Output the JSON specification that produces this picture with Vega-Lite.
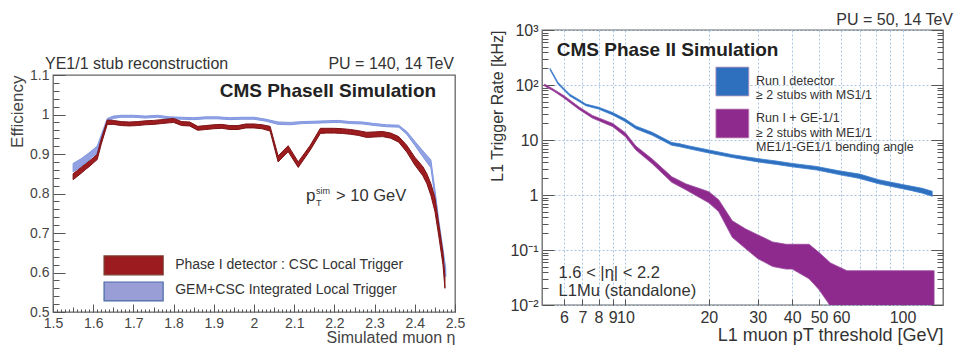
{
  "$schema": "https://vega.github.io/schema/vega-lite/v6.json",
  "background": "white",
  "padding": {"left": 7, "top": 11, "right": 0, "bottom": 0},
  "spacing": 23,
  "config": {
    "font": "Liberation Sans",
    "view": {"stroke": "#666", "strokeWidth": 1.3},
    "axis": {"domain": false, "labelFont": "Liberation Sans", "titleFont": "Liberation Sans", "labelColor": "#444", "titleColor": "#444", "tickColor": "#555", "titleFontWeight": "normal", "labelFlush": false, "labelOverlap": false}
  },
  "datasets": {
    "eff": [
      {"series": "GEM+CSC", "eta": 1.55, "lo": 0.855, "hi": 0.876},
      {"series": "GEM+CSC", "eta": 1.57, "lo": 0.868, "hi": 0.888},
      {"series": "GEM+CSC", "eta": 1.59, "lo": 0.885, "hi": 0.903},
      {"series": "GEM+CSC", "eta": 1.61, "lo": 0.903, "hi": 0.92},
      {"series": "GEM+CSC", "eta": 1.635, "lo": 0.98, "hi": 0.99},
      {"series": "GEM+CSC", "eta": 1.65, "lo": 0.99, "hi": 0.996},
      {"series": "GEM+CSC", "eta": 1.67, "lo": 0.993, "hi": 0.998},
      {"series": "GEM+CSC", "eta": 1.7, "lo": 0.993, "hi": 0.998},
      {"series": "GEM+CSC", "eta": 1.73, "lo": 0.991, "hi": 0.996},
      {"series": "GEM+CSC", "eta": 1.76, "lo": 0.993, "hi": 0.998},
      {"series": "GEM+CSC", "eta": 1.79, "lo": 0.989, "hi": 0.994},
      {"series": "GEM+CSC", "eta": 1.82, "lo": 0.988, "hi": 0.993},
      {"series": "GEM+CSC", "eta": 1.85, "lo": 0.987, "hi": 0.992},
      {"series": "GEM+CSC", "eta": 1.88, "lo": 0.989, "hi": 0.994},
      {"series": "GEM+CSC", "eta": 1.91, "lo": 0.989, "hi": 0.994},
      {"series": "GEM+CSC", "eta": 1.94, "lo": 0.987, "hi": 0.992},
      {"series": "GEM+CSC", "eta": 1.97, "lo": 0.988, "hi": 0.993},
      {"series": "GEM+CSC", "eta": 2.0, "lo": 0.988, "hi": 0.993},
      {"series": "GEM+CSC", "eta": 2.03, "lo": 0.983, "hi": 0.988},
      {"series": "GEM+CSC", "eta": 2.06, "lo": 0.975, "hi": 0.981},
      {"series": "GEM+CSC", "eta": 2.09, "lo": 0.974, "hi": 0.98},
      {"series": "GEM+CSC", "eta": 2.12, "lo": 0.977, "hi": 0.982},
      {"series": "GEM+CSC", "eta": 2.15, "lo": 0.978, "hi": 0.983},
      {"series": "GEM+CSC", "eta": 2.18, "lo": 0.979, "hi": 0.984},
      {"series": "GEM+CSC", "eta": 2.21, "lo": 0.98, "hi": 0.985},
      {"series": "GEM+CSC", "eta": 2.24, "lo": 0.977, "hi": 0.982},
      {"series": "GEM+CSC", "eta": 2.27, "lo": 0.976, "hi": 0.981},
      {"series": "GEM+CSC", "eta": 2.3, "lo": 0.972, "hi": 0.977},
      {"series": "GEM+CSC", "eta": 2.33, "lo": 0.969, "hi": 0.974},
      {"series": "GEM+CSC", "eta": 2.36, "lo": 0.968, "hi": 0.973},
      {"series": "GEM+CSC", "eta": 2.38, "lo": 0.95, "hi": 0.957},
      {"series": "GEM+CSC", "eta": 2.4, "lo": 0.922, "hi": 0.932},
      {"series": "GEM+CSC", "eta": 2.42, "lo": 0.893, "hi": 0.908},
      {"series": "GEM+CSC", "eta": 2.44, "lo": 0.865, "hi": 0.885},
      {"series": "GEM+CSC", "eta": 2.45, "lo": 0.79, "hi": 0.81},
      {"series": "GEM+CSC", "eta": 2.46, "lo": 0.71, "hi": 0.73},
      {"series": "GEM+CSC", "eta": 2.47, "lo": 0.64, "hi": 0.66},
      {"series": "GEM+CSC", "eta": 2.477, "lo": 0.59, "hi": 0.61},
      {"series": "Phase I", "eta": 1.55, "lo": 0.835, "hi": 0.85},
      {"series": "Phase I", "eta": 1.56, "lo": 0.843, "hi": 0.858},
      {"series": "Phase I", "eta": 1.57, "lo": 0.851, "hi": 0.866},
      {"series": "Phase I", "eta": 1.58, "lo": 0.86, "hi": 0.874},
      {"series": "Phase I", "eta": 1.59, "lo": 0.868, "hi": 0.882},
      {"series": "Phase I", "eta": 1.6, "lo": 0.877, "hi": 0.89},
      {"series": "Phase I", "eta": 1.61, "lo": 0.886, "hi": 0.9},
      {"series": "Phase I", "eta": 1.62, "lo": 0.925, "hi": 0.938},
      {"series": "Phase I", "eta": 1.635, "lo": 0.975, "hi": 0.986},
      {"series": "Phase I", "eta": 1.65, "lo": 0.975, "hi": 0.985},
      {"series": "Phase I", "eta": 1.67, "lo": 0.972, "hi": 0.982},
      {"series": "Phase I", "eta": 1.69, "lo": 0.971, "hi": 0.981},
      {"series": "Phase I", "eta": 1.71, "lo": 0.972, "hi": 0.982},
      {"series": "Phase I", "eta": 1.73, "lo": 0.974, "hi": 0.984},
      {"series": "Phase I", "eta": 1.75, "lo": 0.975, "hi": 0.985},
      {"series": "Phase I", "eta": 1.77, "lo": 0.977, "hi": 0.987},
      {"series": "Phase I", "eta": 1.79, "lo": 0.979, "hi": 0.989},
      {"series": "Phase I", "eta": 1.8, "lo": 0.98, "hi": 0.99},
      {"series": "Phase I", "eta": 1.82, "lo": 0.972, "hi": 0.982},
      {"series": "Phase I", "eta": 1.84, "lo": 0.971, "hi": 0.981},
      {"series": "Phase I", "eta": 1.86, "lo": 0.96, "hi": 0.97},
      {"series": "Phase I", "eta": 1.88, "lo": 0.962, "hi": 0.972},
      {"series": "Phase I", "eta": 1.9, "lo": 0.964, "hi": 0.974},
      {"series": "Phase I", "eta": 1.92, "lo": 0.965, "hi": 0.975},
      {"series": "Phase I", "eta": 1.94, "lo": 0.962, "hi": 0.972},
      {"series": "Phase I", "eta": 1.96, "lo": 0.962, "hi": 0.972},
      {"series": "Phase I", "eta": 1.98, "lo": 0.966, "hi": 0.976},
      {"series": "Phase I", "eta": 2.0, "lo": 0.966, "hi": 0.976},
      {"series": "Phase I", "eta": 2.02, "lo": 0.964, "hi": 0.974},
      {"series": "Phase I", "eta": 2.04, "lo": 0.958, "hi": 0.97},
      {"series": "Phase I", "eta": 2.06, "lo": 0.88, "hi": 0.895},
      {"series": "Phase I", "eta": 2.085, "lo": 0.906, "hi": 0.921},
      {"series": "Phase I", "eta": 2.11, "lo": 0.866, "hi": 0.88},
      {"series": "Phase I", "eta": 2.14, "lo": 0.91, "hi": 0.922},
      {"series": "Phase I", "eta": 2.165, "lo": 0.952, "hi": 0.965},
      {"series": "Phase I", "eta": 2.18, "lo": 0.953, "hi": 0.965},
      {"series": "Phase I", "eta": 2.2, "lo": 0.953, "hi": 0.965},
      {"series": "Phase I", "eta": 2.22, "lo": 0.952, "hi": 0.964},
      {"series": "Phase I", "eta": 2.24, "lo": 0.95, "hi": 0.962},
      {"series": "Phase I", "eta": 2.26, "lo": 0.947, "hi": 0.959},
      {"series": "Phase I", "eta": 2.28, "lo": 0.942, "hi": 0.955},
      {"series": "Phase I", "eta": 2.3, "lo": 0.943, "hi": 0.956},
      {"series": "Phase I", "eta": 2.32, "lo": 0.944, "hi": 0.957},
      {"series": "Phase I", "eta": 2.34, "lo": 0.94, "hi": 0.953},
      {"series": "Phase I", "eta": 2.36, "lo": 0.93, "hi": 0.944},
      {"series": "Phase I", "eta": 2.38, "lo": 0.905, "hi": 0.922},
      {"series": "Phase I", "eta": 2.4, "lo": 0.872, "hi": 0.892},
      {"series": "Phase I", "eta": 2.42, "lo": 0.845, "hi": 0.868},
      {"series": "Phase I", "eta": 2.43, "lo": 0.825, "hi": 0.85},
      {"series": "Phase I", "eta": 2.44, "lo": 0.795, "hi": 0.825},
      {"series": "Phase I", "eta": 2.45, "lo": 0.755, "hi": 0.79},
      {"series": "Phase I", "eta": 2.46, "lo": 0.69, "hi": 0.72},
      {"series": "Phase I", "eta": 2.47, "lo": 0.62, "hi": 0.65},
      {"series": "Phase I", "eta": 2.475, "lo": 0.56, "hi": 0.59}
    ],
    "rate": [
      {"series": "Run I", "pt": 5.35, "lo": 188, "hi": 200},
      {"series": "Run I", "pt": 5.7, "lo": 105, "hi": 113},
      {"series": "Run I", "pt": 6.0, "lo": 80, "hi": 86},
      {"series": "Run I", "pt": 6.3, "lo": 63, "hi": 68},
      {"series": "Run I", "pt": 6.8, "lo": 50, "hi": 54},
      {"series": "Run I", "pt": 7.2, "lo": 42, "hi": 45},
      {"series": "Run I", "pt": 8.0, "lo": 36.5, "hi": 39.5},
      {"series": "Run I", "pt": 9.0, "lo": 28.5, "hi": 31.5},
      {"series": "Run I", "pt": 10, "lo": 21.5, "hi": 24},
      {"series": "Run I", "pt": 10.9, "lo": 16, "hi": 18},
      {"series": "Run I", "pt": 12.5, "lo": 12.2, "hi": 13.8},
      {"series": "Run I", "pt": 14.7, "lo": 8.0, "hi": 9.0},
      {"series": "Run I", "pt": 15.6, "lo": 7.6, "hi": 8.6},
      {"series": "Run I", "pt": 17, "lo": 6.9, "hi": 7.8},
      {"series": "Run I", "pt": 20, "lo": 5.8, "hi": 6.6},
      {"series": "Run I", "pt": 24.3, "lo": 4.8, "hi": 5.4},
      {"series": "Run I", "pt": 30, "lo": 4.0, "hi": 4.6},
      {"series": "Run I", "pt": 35, "lo": 3.6, "hi": 4.15},
      {"series": "Run I", "pt": 40, "lo": 3.25, "hi": 3.75},
      {"series": "Run I", "pt": 49, "lo": 2.85, "hi": 3.3},
      {"series": "Run I", "pt": 59, "lo": 2.35, "hi": 2.75},
      {"series": "Run I", "pt": 70, "lo": 2.0, "hi": 2.4},
      {"series": "Run I", "pt": 82, "lo": 1.6, "hi": 1.9},
      {"series": "Run I", "pt": 100, "lo": 1.3, "hi": 1.55},
      {"series": "Run I", "pt": 108, "lo": 1.2, "hi": 1.44},
      {"series": "Run I", "pt": 118, "lo": 1.08, "hi": 1.32},
      {"series": "Run I", "pt": 128, "lo": 0.95, "hi": 1.17},
      {"series": "Run I + GE-1/1", "pt": 5.1, "lo": 96, "hi": 104},
      {"series": "Run I + GE-1/1", "pt": 5.5, "lo": 78, "hi": 84},
      {"series": "Run I + GE-1/1", "pt": 6.0, "lo": 58, "hi": 64},
      {"series": "Run I + GE-1/1", "pt": 6.8, "lo": 36, "hi": 40},
      {"series": "Run I + GE-1/1", "pt": 7.6, "lo": 25, "hi": 28},
      {"series": "Run I + GE-1/1", "pt": 9.0, "lo": 17.5, "hi": 20},
      {"series": "Run I + GE-1/1", "pt": 10, "lo": 11.5, "hi": 13.5},
      {"series": "Run I + GE-1/1", "pt": 10.9, "lo": 6.6, "hi": 7.8},
      {"series": "Run I + GE-1/1", "pt": 12.5, "lo": 3.7, "hi": 4.5},
      {"series": "Run I + GE-1/1", "pt": 14.7, "lo": 1.7, "hi": 2.15},
      {"series": "Run I + GE-1/1", "pt": 16.5, "lo": 1.25, "hi": 1.6},
      {"series": "Run I + GE-1/1", "pt": 20, "lo": 0.72, "hi": 1.15},
      {"series": "Run I + GE-1/1", "pt": 21.7, "lo": 0.5, "hi": 0.82},
      {"series": "Run I + GE-1/1", "pt": 24.3, "lo": 0.17, "hi": 0.34},
      {"series": "Run I + GE-1/1", "pt": 27.2, "lo": 0.105, "hi": 0.24},
      {"series": "Run I + GE-1/1", "pt": 30, "lo": 0.07, "hi": 0.19},
      {"series": "Run I + GE-1/1", "pt": 34, "lo": 0.05, "hi": 0.14},
      {"series": "Run I + GE-1/1", "pt": 38, "lo": 0.045, "hi": 0.127},
      {"series": "Run I + GE-1/1", "pt": 40, "lo": 0.045, "hi": 0.127},
      {"series": "Run I + GE-1/1", "pt": 46, "lo": 0.03, "hi": 0.127},
      {"series": "Run I + GE-1/1", "pt": 50, "lo": 0.019, "hi": 0.09},
      {"series": "Run I + GE-1/1", "pt": 55, "lo": 0.0095, "hi": 0.058},
      {"series": "Run I + GE-1/1", "pt": 63, "lo": 0.005, "hi": 0.042},
      {"series": "Run I + GE-1/1", "pt": 130, "lo": 0.005, "hi": 0.042}
    ]
  },
  "hconcat": [
    {
      "spacing": 0,
      "vconcat": [
        {
          "width": 402,
          "height": 25,
          "data": {"values": []},
          "mark": "point",
          "view": {"stroke": null}
        },
        {
          "width": 402,
          "height": 237,
          "resolve": {"axis": {"x": "independent", "y": "independent"}},
          "layer": [
            {
              "data": {"name": "eff"},
              "transform": [{"filter": "datum.series == 'GEM+CSC'"}],
              "mark": {"type": "area", "fill": "#93a1e2", "stroke": "#7f97e2", "strokeWidth": 1, "clip": true},
              "encoding": {
                "x": {"field": "eta", "type": "quantitative", "scale": {"domain": [1.5, 2.5], "nice": false, "zero": false},
                  "axis": {"values": [1.5,1.51,1.52,1.53,1.54,1.55,1.56,1.57,1.58,1.59,1.6,1.61,1.62,1.63,1.64,1.65,1.66,1.67,1.68,1.69,1.7,1.71,1.72,1.73,1.74,1.75,1.76,1.77,1.78,1.79,1.8,1.81,1.82,1.83,1.84,1.85,1.86,1.87,1.88,1.89,1.9,1.91,1.92,1.93,1.94,1.95,1.96,1.97,1.98,1.99,2,2.01,2.02,2.03,2.04,2.05,2.06,2.07,2.08,2.09,2.1,2.11,2.12,2.13,2.14,2.15,2.16,2.17,2.18,2.19,2.2,2.21,2.22,2.23,2.24,2.25,2.26,2.27,2.28,2.29,2.3,2.31,2.32,2.33,2.34,2.35,2.36,2.37,2.38,2.39,2.4,2.41,2.42,2.43,2.44,2.45,2.46,2.47,2.48,2.49,2.5],
                    "format": ".2~f",
                    "labelExpr": "abs(datum.value*10 - round(datum.value*10)) < 0.001 ? datum.label : ''",
                    "labelOverlap": false, "labelFontSize": 14, "labelPadding": 12,
                    "tickSize": {"condition": [{"test": "abs(datum.value*10 - round(datum.value*10)) < 0.001", "value": -8}, {"test": "abs(datum.value*20 - round(datum.value*20)) < 0.001", "value": -5}], "value": -3},
                    "grid": false, "title": "Simulated muon η", "titleAnchor": "end", "titleFontSize": 16, "titlePadding": -6}},
                "y": {"field": "hi", "type": "quantitative", "scale": {"domain": [0.5, 1.1], "nice": false, "zero": false},
                  "axis": {"values": [0.5,0.52,0.54,0.56,0.58,0.6,0.62,0.64,0.66,0.68,0.7,0.72,0.74,0.76,0.78,0.8,0.82,0.84,0.86,0.88,0.9,0.92,0.94,0.96,0.98,1,1.02,1.04,1.06,1.08,1.1],
                    "format": ".1~f",
                    "labelExpr": "abs(datum.value*10 - round(datum.value*10)) < 0.001 ? datum.label : ''",
                    "labelOverlap": false, "labelFontSize": 14, "labelPadding": 16,
                    "tickSize": {"condition": {"test": "abs(datum.value*10 - round(datum.value*10)) < 0.001", "value": -12}, "value": -6},
                    "grid": false, "title": "Efficiency", "titleAnchor": "end", "titleFontSize": 17, "titlePadding": 3}},
                "y2": {"field": "lo"}
              }
            },
            {
              "data": {"name": "eff"},
              "transform": [{"filter": "datum.series == 'Phase I'"}],
              "mark": {"type": "area", "fill": "#9c1c1f", "stroke": "#7d1214", "strokeWidth": 1, "clip": true},
              "encoding": {
                "x": {"field": "eta", "type": "quantitative", "scale": {"domain": [1.5, 2.5], "nice": false, "zero": false}, "axis": null},
                "y": {"field": "hi", "type": "quantitative", "scale": {"domain": [0.5, 1.1], "nice": false, "zero": false}, "axis": null},
                "y2": {"field": "lo"}
              }
            },
            {
              "data": {"values": [{}]},
              "mark": {"type": "rect", "fill": "#9b1b1f", "stroke": "#7a3a30", "strokeWidth": 1.2},
              "encoding": {
                "x": {"datum": 1.627, "type": "quantitative", "axis": null},
                "x2": {"datum": 1.774},
                "y": {"datum": 0.642, "type": "quantitative", "axis": null},
                "y2": {"datum": 0.594}
              }
            },
            {
              "data": {"values": [{}]},
              "mark": {"type": "rect", "fill": "#9a9ed6", "stroke": "#4a6aa5", "strokeWidth": 1.2},
              "encoding": {
                "x": {"datum": 1.627, "type": "quantitative", "axis": null},
                "x2": {"datum": 1.774},
                "y": {"datum": 0.576, "type": "quantitative", "axis": null},
                "y2": {"datum": 0.528}
              }
            },
            {
              "data": {"values": [{}]},
              "mark": {"type": "text", "text": "Phase I detector : CSC Local Trigger", "fontSize": 14, "color": "#333", "align": "left", "baseline": "middle"},
              "encoding": {
                "x": {"datum": 1.804, "type": "quantitative", "axis": null},
                "y": {"datum": 0.619, "type": "quantitative", "axis": null}
              }
            },
            {
              "data": {"values": [{}]},
              "mark": {"type": "text", "text": "GEM+CSC Integrated Local Trigger", "fontSize": 14, "color": "#333", "align": "left", "baseline": "middle"},
              "encoding": {
                "x": {"datum": 1.804, "type": "quantitative", "axis": null},
                "y": {"datum": 0.5557, "type": "quantitative", "axis": null}
              }
            },
            {
              "data": {"values": [{}]},
              "mark": {"type": "text", "text": "CMS PhaseII Simulation", "fontSize": 19, "fontWeight": "bold", "color": "#222", "align": "right", "baseline": "middle"},
              "encoding": {
                "x": {"datum": 2.453, "type": "quantitative", "axis": null},
                "y": {"datum": 1.0595, "type": "quantitative", "axis": null}
              }
            },
            {
              "data": {"values": [{}]},
              "mark": {"type": "text", "text": "YE1/1 stub reconstruction", "fontSize": 16, "color": "#333", "align": "left", "baseline": "alphabetic", "dx": -8, "dy": -6},
              "encoding": {
                "x": {"datum": 1.5, "type": "quantitative", "axis": null},
                "y": {"datum": 1.1, "type": "quantitative", "axis": null}
              }
            },
            {
              "data": {"values": [{}]},
              "mark": {"type": "text", "text": "PU = 140, 14 TeV", "fontSize": 16, "color": "#333", "align": "right", "baseline": "alphabetic", "dy": -6},
              "encoding": {
                "x": {"datum": 2.4975, "type": "quantitative", "axis": null},
                "y": {"datum": 1.1, "type": "quantitative", "axis": null}
              }
            },
            {
              "data": {"values": [{}]},
              "mark": {"type": "text", "text": "p", "fontSize": 17, "color": "#333", "align": "left", "baseline": "alphabetic"},
              "encoding": {
                "x": {"datum": 2.1294, "type": "quantitative", "axis": null},
                "y": {"datum": 0.781, "type": "quantitative", "axis": null}
              }
            },
            {
              "data": {"values": [{}]},
              "mark": {"type": "text", "text": "sim", "fontSize": 9, "color": "#333", "align": "left", "baseline": "alphabetic"},
              "encoding": {
                "x": {"datum": 2.154, "type": "quantitative", "axis": null},
                "y": {"datum": 0.7987, "type": "quantitative", "axis": null}
              }
            },
            {
              "data": {"values": [{}]},
              "mark": {"type": "text", "text": "T", "fontSize": 9, "color": "#333", "align": "left", "baseline": "alphabetic"},
              "encoding": {
                "x": {"datum": 2.154, "type": "quantitative", "axis": null},
                "y": {"datum": 0.7684, "type": "quantitative", "axis": null}
              }
            },
            {
              "data": {"values": [{}]},
              "mark": {"type": "text", "text": "> 10 GeV", "fontSize": 16.5, "color": "#333", "align": "left", "baseline": "alphabetic"},
              "encoding": {
                "x": {"datum": 2.204, "type": "quantitative", "axis": null},
                "y": {"datum": 0.781, "type": "quantitative", "axis": null}
              }
            }
          ]
        }
      ]
    },
    {
      "width": 401,
      "height": 275,
      "resolve": {"axis": {"x": "independent", "y": "independent"}},
      "layer": [
        {
          "data": {"name": "rate"},
          "transform": [{"filter": "datum.series == 'Run I'"}],
          "mark": {"type": "area", "fill": "#2e6fbe", "stroke": "#3c7fd0", "strokeWidth": 0.8, "clip": true},
          "encoding": {
            "x": {"field": "pt", "type": "quantitative", "scale": {"type": "log", "domain": [5, 140], "nice": false},
              "axis": {"values": [6,7,8,9,10,20,30,40,50,60,70,80,90,100], "format": "d",
                "labelExpr": "datum.value == 70 || datum.value == 80 || datum.value == 90 ? '' : datum.label",
                "labelOverlap": false, "labelFontSize": 16, "labelColor": "#333", "labelPadding": 10, "tickSize": -6,
                "grid": true, "gridColor": "#a8c4e0", "gridDash": [2, 2],
                "title": "L1 muon pT threshold [GeV]", "titleAnchor": "end", "titleFontSize": 18, "titleColor": "#333", "titlePadding": 1}},
            "y": {"field": "hi", "type": "quantitative", "scale": {"type": "log", "domain": [0.01, 1000], "nice": false},
              "axis": {"values": [0.01,0.02,0.03,0.04,0.05,0.06,0.07,0.08,0.09,0.1,0.2,0.3,0.4,0.5,0.6,0.7,0.8,0.9,1,2,3,4,5,6,7,8,9,10,20,30,40,50,60,70,80,90,100,200,300,400,500,600,700,800,900,1000],
                "labelExpr": "abs(log(datum.value)/LN10 - round(log(datum.value)/LN10)) > 0.01 ? '' : datum.value > 500 ? '10³' : datum.value > 50 ? '10²' : datum.value > 5 ? '10' : datum.value > 0.5 ? '1' : datum.value > 0.05 ? '10⁻¹' : '10⁻²'",
                "labelOverlap": false, "labelFontSize": 16, "labelColor": "#333", "labelPadding": 16,
                "tickSize": {"condition": {"test": "abs(log(datum.value)/LN10 - round(log(datum.value)/LN10)) < 0.01", "value": -12}, "value": -6},
                "grid": true, "gridColor": "#a8c4e0", "gridDash": [2, 2],
                "gridOpacity": {"condition": {"test": "abs(log(datum.value)/LN10 - round(log(datum.value)/LN10)) < 0.01", "value": 1}, "value": 0},
                "title": "L1 Trigger Rate [kHz]", "titleAnchor": "end", "titleFontSize": 16, "titleColor": "#333", "titlePadding": 4}},
            "y2": {"field": "lo"}
          }
        },
        {
          "data": {"name": "rate"},
          "transform": [{"filter": "datum.series == 'Run I + GE-1/1'"}],
          "mark": {"type": "area", "fill": "#8e2a8e", "stroke": "#9a4a9e", "strokeWidth": 0.8, "clip": true},
          "encoding": {
            "x": {"field": "pt", "type": "quantitative", "scale": {"type": "log", "domain": [5, 140], "nice": false}, "axis": null},
            "y": {"field": "hi", "type": "quantitative", "scale": {"type": "log", "domain": [0.01, 1000], "nice": false},
              "axis": {"orient": "right", "values": [0.01,0.02,0.03,0.04,0.05,0.06,0.07,0.08,0.09,0.1,0.2,0.3,0.4,0.5,0.6,0.7,0.8,0.9,1,2,3,4,5,6,7,8,9,10,20,30,40,50,60,70,80,90,100,200,300,400,500,600,700,800,900,1000],
                "labels": false, "title": null, "grid": false,
                "tickSize": {"condition": {"test": "abs(log(datum.value)/LN10 - round(log(datum.value)/LN10)) < 0.01", "value": -12}, "value": -6}}},
            "y2": {"field": "lo"}
          }
        },
        {
          "data": {"values": [{}]},
          "mark": {"type": "rect", "fill": "#2e6fbe", "stroke": "#c9a0c0", "strokeWidth": 0.8},
          "encoding": {
            "x": {"datum": 21.2, "type": "quantitative", "axis": null},
            "x2": {"datum": 27.9},
            "y": {"datum": 212, "type": "quantitative", "axis": null},
            "y2": {"datum": 63.1}
          }
        },
        {
          "data": {"values": [{}]},
          "mark": {"type": "rect", "fill": "#8e2a8e", "stroke": "#c9a0c0", "strokeWidth": 0.8},
          "encoding": {
            "x": {"datum": 21.2, "type": "quantitative", "axis": null},
            "x2": {"datum": 27.9},
            "y": {"datum": 36.6, "type": "quantitative", "axis": null},
            "y2": {"datum": 10.9}
          }
        },
        {
          "data": {"values": [{}]},
          "mark": {"type": "text", "text": ["Run I detector", " ≥ 2 stubs with MS1/1"], "fontSize": 12.5, "lineHeight": 14, "color": "#333", "align": "left", "baseline": "middle"},
          "encoding": {
            "x": {"datum": 29.6, "type": "quantitative", "axis": null},
            "y": {"datum": 116, "type": "quantitative", "axis": null}
          }
        },
        {
          "data": {"values": [{}]},
          "mark": {"type": "text", "text": ["Run I + GE-1/1", " ≥ 2 stubs with ME1/1", "ME1/1-GE1/1 bending angle"], "fontSize": 12.5, "lineHeight": 14.5, "color": "#333", "align": "left", "baseline": "middle"},
          "encoding": {
            "x": {"datum": 29.6, "type": "quantitative", "axis": null},
            "y": {"datum": 24.6, "type": "quantitative", "axis": null}
          }
        },
        {
          "data": {"values": [{}]},
          "mark": {"type": "text", "text": "CMS Phase II Simulation", "fontSize": 19, "fontWeight": "bold", "color": "#222", "align": "left", "baseline": "middle"},
          "encoding": {
            "x": {"datum": 5.65, "type": "quantitative", "axis": null},
            "y": {"datum": 433, "type": "quantitative", "axis": null}
          }
        },
        {
          "data": {"values": [{}]},
          "mark": {"type": "text", "text": "PU = 50, 14 TeV", "fontSize": 16, "color": "#333", "align": "right", "baseline": "alphabetic", "dx": 10, "dy": -5},
          "encoding": {
            "x": {"datum": 140, "type": "quantitative", "axis": null},
            "y": {"datum": 1000, "type": "quantitative", "axis": null}
          }
        },
        {
          "data": {"values": [{}]},
          "mark": {"type": "text", "text": ["1.6 < |η| < 2.2", "L1Mu (standalone)"], "fontSize": 16.5, "lineHeight": 18, "color": "#333", "align": "left", "baseline": "middle"},
          "encoding": {
            "x": {"datum": 5.74, "type": "quantitative", "axis": null},
            "y": {"datum": 0.0382, "type": "quantitative", "axis": null}
          }
        }
      ]
    }
  ]
}
